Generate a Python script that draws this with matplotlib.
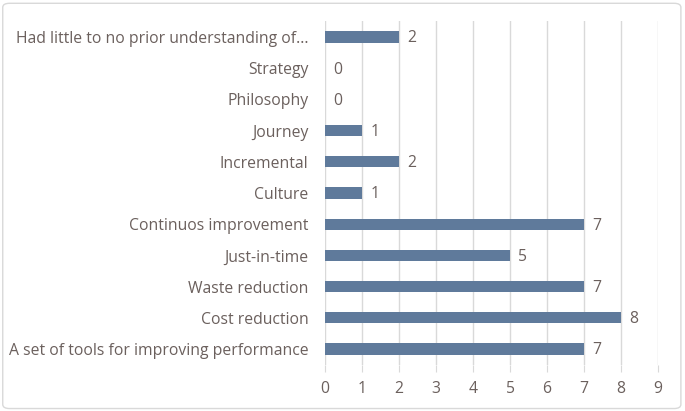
import matplotlib.pyplot as plt
from matplotlib.patches import FancyBboxPatch

categories = [
    "A set of tools for improving performance",
    "Cost reduction",
    "Waste reduction",
    "Just-in-time",
    "Continuos improvement",
    "Culture",
    "Incremental",
    "Journey",
    "Philosophy",
    "Strategy",
    "Had little to no prior understanding of...",
]
counts = [7, 8, 7, 5, 7, 1, 2, 1, 0, 0, 2]
x_ticks = list(range(10))

text_color = "#6b605d"
bar_color = "#5f7a9b"
grid_color = "#d9d9d9"

plt.rcParams["font.family"] = ["Open Sans", "DejaVu Sans"]

fig = plt.figure(figsize=(6.85, 4.11), dpi=100)
ax = fig.add_axes([0.4745, 0.1129, 0.4861, 0.8351])

y = list(range(len(categories)))
ax.barh(y, counts, height=0.36, color=bar_color, zorder=3)

for yi, v in zip(y, counts):
    ax.annotate(str(v), (v, yi), xytext=(6, -1), textcoords="offset points",
                ha="left", va="center", fontsize=11.3, color=text_color)

ax.set_xlim(0, 9)
ax.set_ylim(-0.5, len(categories) - 0.5)
ax.set_xticks(x_ticks)
ax.set_yticks(y)
ax.set_yticklabels(categories)
ax.grid(axis="x", color=grid_color, linewidth=1, zorder=0)
for s in ax.spines.values():
    s.set_visible(False)
ax.tick_params(axis="y", length=0, pad=12, labelsize=11.3, labelcolor=text_color)
ax.tick_params(axis="x", length=5, color=grid_color, pad=7, labelsize=11.3,
               labelcolor=text_color)

border = FancyBboxPatch((0.004, 0.006), 0.99, 0.986, boxstyle="round,pad=0,rounding_size=0.01",
                        transform=fig.transFigure, fill=False, edgecolor=grid_color,
                        linewidth=1)
fig.patches.append(border)

fig.savefig("out.png", dpi=100)
